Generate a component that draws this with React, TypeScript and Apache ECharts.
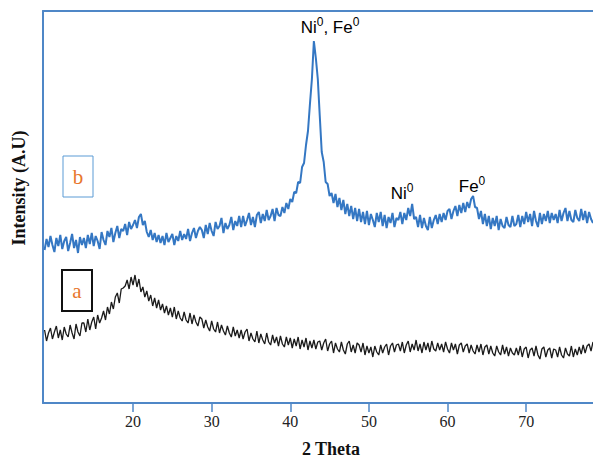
import React, { useEffect, useRef } from "react";
import * as echarts from "echarts";

// 2-theta sampling grid (degrees)
const thetaStart = 8.75;
const thetaStep = 0.25;

// tick labels on the 2 Theta axis
const tickValues = [20, 30, 40, 50, 60, 70];

// sample (b): blue pattern, arbitrary intensity units
const seriesB = [
  153, 164, 156, 167, 158, 151, 165, 157, 168, 154, 162, 166, 152, 160, 169, 155, 163, 150, 166, 158,
  165, 155, 168, 159, 170, 157, 167, 162, 154, 171, 163, 158, 172, 166, 175, 161, 170, 177, 165, 174,
  172, 179, 168, 181, 174, 178, 183, 175, 186, 189, 178, 182, 171, 166, 173, 163, 170, 161, 168, 160,
  167, 158, 170, 161, 165, 169, 158, 167, 162, 172, 163, 169, 164, 174, 162, 170, 175, 165, 172, 176,
  173, 165, 178, 169, 180, 172, 167, 181, 174, 177, 185, 170, 180, 174, 178, 186, 173, 182, 177, 187,
  176, 187, 177, 183, 190, 178, 186, 176, 188, 191, 180, 189, 182, 193, 183, 187, 194, 182, 195, 188,
  187, 196, 190, 200, 194, 204, 201, 211, 210, 221, 220, 236, 240, 258, 272, 299, 324, 362, 345, 324,
  287, 251, 241, 221, 219, 207, 210, 200, 209, 196, 205, 193, 203, 189, 199, 187, 197, 184, 195, 182,
  194, 181, 191, 179, 192, 178, 189, 183, 176, 190, 181, 191, 177, 188, 175, 186, 180, 190, 176, 185,
  183, 191, 179, 190, 183, 195, 187, 199, 184, 186, 176, 188, 175, 185, 177, 173, 186, 175, 183, 188,
  179, 189, 181, 190, 183, 192, 194, 184, 192, 197, 187, 198, 190, 200, 191, 201, 195, 204, 207, 196,
  195, 184, 192, 179, 189, 177, 187, 174, 185, 177, 187, 173, 184, 177, 175, 186, 178, 176, 187, 177,
  179, 188, 176, 187, 179, 191, 181, 189, 177, 192, 182, 176, 190, 179, 189, 182, 192, 180, 190, 183,
  189, 180, 193, 182, 190, 195, 182, 192, 183, 181, 193, 185, 182, 194, 183, 192, 180, 191, 184, 180,
];

// sample (a): black pattern, arbitrary intensity units
const seriesA = [
  73, 62, 70, 75, 64, 71, 77, 65, 73, 63, 76, 69, 66, 78, 70, 64, 79, 71, 67, 80,
  80, 71, 84, 73, 81, 86, 74, 88, 80, 85, 92, 83, 96, 89, 101, 94, 106, 110, 100, 114,
  115, 117, 123, 114, 126, 118, 128, 116, 124, 111, 116, 106, 112, 102, 108, 97, 105, 95, 103, 93,
  99, 90, 97, 88, 95, 86, 96, 84, 92, 85, 82, 91, 83, 80, 90, 79, 88, 81, 77, 86,
  84, 75, 83, 76, 72, 82, 74, 71, 81, 70, 78, 72, 68, 77, 70, 66, 76, 67, 73, 65,
  73, 64, 71, 74, 62, 70, 64, 61, 72, 60, 69, 63, 59, 70, 61, 58, 68, 60, 66, 57,
  67, 59, 56, 66, 58, 65, 55, 64, 57, 66, 54, 63, 56, 65, 53, 62, 55, 63, 54, 61,
  62, 53, 60, 64, 52, 59, 62, 50, 60, 54, 51, 61, 53, 49, 59, 62, 51, 58, 50, 60,
  58, 51, 60, 48, 57, 50, 56, 46, 57, 51, 48, 58, 50, 56, 59, 48, 57, 60, 51, 58,
  59, 52, 61, 50, 58, 62, 51, 59, 53, 63, 52, 59, 50, 61, 53, 60, 51, 62, 54, 52,
  60, 53, 59, 51, 61, 54, 50, 60, 53, 59, 49, 58, 60, 51, 57, 59, 50, 58, 52, 49,
  58, 51, 59, 48, 56, 58, 49, 57, 50, 47, 57, 51, 48, 58, 49, 56, 47, 55, 50, 48,
  55, 48, 57, 46, 54, 56, 45, 53, 55, 47, 57, 48, 44, 54, 56, 46, 53, 55, 45, 54,
  53, 46, 56, 48, 45, 55, 49, 47, 57, 46, 54, 48, 56, 49, 58, 50, 57, 59, 52, 61,
];

const AXIS_BLUE = "#4f87c7";
const ORANGE = "#e8762c";

const toPairs = (vals: number[]) => vals.map((v, i) => [thetaStart + i * thetaStep, v]);

export default function App() {
  const ref = useRef<HTMLDivElement>(null);

  useEffect(() => {
    if (!ref.current) return;
    const chart = echarts.init(ref.current, undefined, { renderer: "svg" });
    const sup = { fontSize: 12, fontFamily: "Liberation Sans", color: "#111", verticalAlign: "top", lineHeight: 22 };
    const main = { fontSize: 17, fontFamily: "Liberation Sans", color: "#111", lineHeight: 22 };
    chart.setOption({
      animation: false,
      backgroundColor: "#ffffff",
      grid: { left: 43, right: 0, top: 11, bottom: 55, containLabel: false },
      xAxis: [
        {
          type: "value",
          min: 8.55,
          max: 78.5,
          position: "bottom",
          axisLine: { show: true, lineStyle: { color: AXIS_BLUE, width: 2 } },
          axisTick: { show: true, customValues: tickValues, length: 9, lineStyle: { color: AXIS_BLUE, width: 1.5 } },
          axisLabel: { customValues: tickValues, fontFamily: "Liberation Serif", fontSize: 16, color: "#222", margin: 10 },
          splitLine: { show: false },
        },
        {
          type: "value",
          min: 8.55,
          max: 78.5,
          position: "top",
          axisLine: { show: true, lineStyle: { color: AXIS_BLUE, width: 2 } },
          axisTick: { show: false },
          axisLabel: { show: false },
          splitLine: { show: false },
        },
      ],
      yAxis: {
        type: "value",
        min: 0,
        max: 392,
        axisLine: { show: true, lineStyle: { color: AXIS_BLUE, width: 2 } },
        axisTick: { show: false },
        axisLabel: { show: false },
        splitLine: { show: false },
      },
      series: [
        {
          name: "a",
          type: "line",
          xAxisIndex: 0,
          data: toPairs(seriesA),
          symbol: "none",
          lineStyle: { color: "#1b1b1b", width: 1.3 },
        },
        {
          name: "b",
          type: "line",
          xAxisIndex: 0,
          data: toPairs(seriesB),
          symbol: "none",
          lineStyle: { color: "#3477c3", width: 2 },
        },
      ],
      graphic: [
        {
          type: "text",
          x: 19,
          y: 188,
          rotation: Math.PI / 2,
          style: {
            text: "Intensity (A.U)",
            fontFamily: "Liberation Serif",
            fontWeight: "bold",
            fontSize: 18,
            fill: "#111",
            align: "center",
            verticalAlign: "middle",
          },
        },
        {
          type: "text",
          x: 331,
          y: 449,
          style: {
            text: "2 Theta",
            fontFamily: "Liberation Serif",
            fontWeight: "bold",
            fontSize: 18,
            fill: "#111",
            align: "center",
            verticalAlign: "middle",
          },
        },
        {
          type: "text",
          x: 330,
          y: 27,
          style: {
            text: "{m|Ni}{s|0}{m|, Fe}{s|0}",
            align: "center",
            verticalAlign: "middle",
            rich: { m: main, s: sup },
          },
        },
        {
          type: "text",
          x: 402,
          y: 193,
          style: {
            text: "{m|Ni}{s|0}",
            align: "center",
            verticalAlign: "middle",
            rich: { m: main, s: sup },
          },
        },
        {
          type: "text",
          x: 472,
          y: 186,
          style: {
            text: "{m|Fe}{s|0}",
            align: "center",
            verticalAlign: "middle",
            rich: { m: main, s: sup },
          },
        },
        {
          type: "rect",
          shape: { x: 63, y: 156, width: 30, height: 41 },
          style: { fill: "#fff", stroke: "#5b9bd5", lineWidth: 1 },
        },
        {
          type: "text",
          x: 78,
          y: 177,
          style: {
            text: "b",
            fontFamily: "Liberation Serif",
            fontSize: 21,
            fill: ORANGE,
            align: "center",
            verticalAlign: "middle",
          },
        },
        {
          type: "rect",
          shape: { x: 62, y: 270, width: 30, height: 41 },
          style: { fill: "#fff", stroke: "#111", lineWidth: 2 },
        },
        {
          type: "text",
          x: 77,
          y: 291,
          style: {
            text: "a",
            fontFamily: "Liberation Serif",
            fontSize: 21,
            fill: ORANGE,
            align: "center",
            verticalAlign: "middle",
          },
        },
      ],
    });
    return () => chart.dispose();
  }, []);

  return (
    <div
      ref={ref}
      style={{ position: "absolute", left: 0, top: 0, width: 593, height: 458 }}
    />
  );
}
